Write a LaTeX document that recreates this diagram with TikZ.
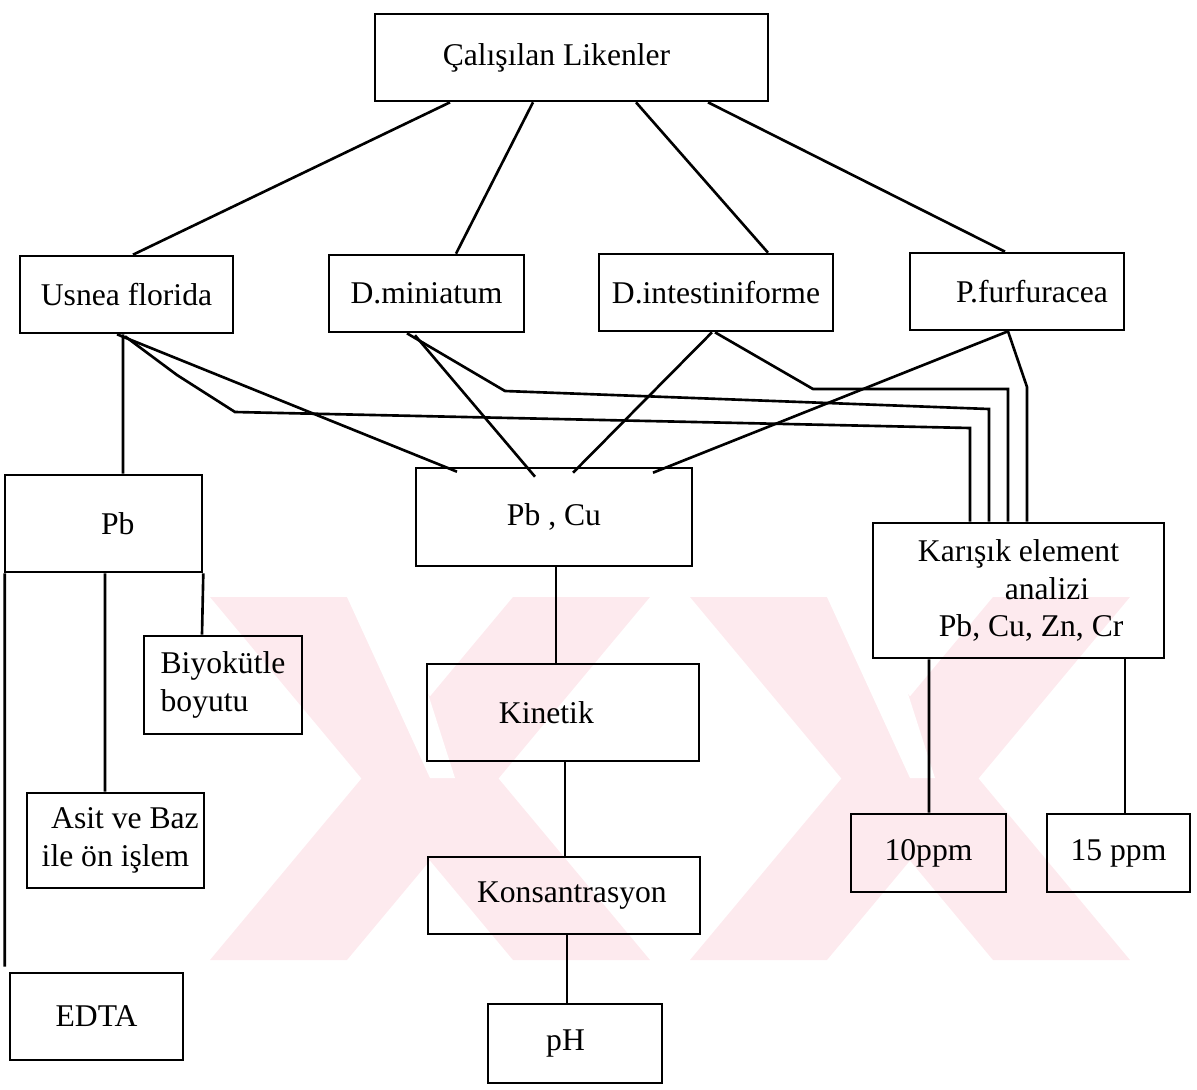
\documentclass[tikz,border=0pt]{standalone}
\usepackage{fontspec}
\setmainfont{Liberation Serif}
\usetikzlibrary{calc}
\definecolor{wmpink}{RGB}{253,234,238}
\tikzset{
  box/.style={draw, line width=1.5pt, inner sep=0pt, align=center,
    font=\fontsize{18}{21.5}\selectfont},
  link/.style={line width=1.5pt},
}
\begin{document}
\begin{tikzpicture}[x=0.02cm, y=-0.02cm]
\useasboundingbox (0,0) rectangle (1197,1089);

% Pale watermark behind everything
\fill[wmpink] (210,597) -- (347,597) -- (650,960) -- (513,960) -- cycle;
\fill[wmpink] (513,597) -- (650,597) -- (347,960) -- (210,960) -- cycle;
\fill[wmpink] (690,597) -- (827,597) -- (1130,960) -- (993,960) -- cycle;
\fill[wmpink] (993,597) -- (1130,597) -- (827,960) -- (690,960) -- cycle;
\fill[white] (347,597) -- (397,597) -- (455,778) -- (430,778) -- cycle;
\fill[white] (827,597) -- (877,597) -- (935,778) -- (910,778) -- cycle;

% Lichens
\node[box, minimum width=7.86cm, minimum height=1.74cm] (top) at (571.5,57.5) {Çalışılan Likenler\hspace*{0.95em}};
\node[box, minimum width=4.26cm, minimum height=1.54cm] (usnea) at (126.5,294.5) {Usnea florida};
\node[box, minimum width=3.9cm, minimum height=1.54cm] (dmin) at (426.5,293.5) {D.miniatum};
\node[box, minimum width=4.68cm, minimum height=1.54cm] (dint) at (716,292.5) {D.intestiniforme};
\node[box, minimum width=4.28cm, minimum height=1.54cm] (pfur) at (1017,291.5) {\hspace*{0.95em}P.furfuracea};

% Elements
\node[box, minimum width=3.94cm, minimum height=1.94cm] (pb) at (103.5,523.5) {\hspace*{0.9em}Pb};
\node[box, minimum width=5.52cm, minimum height=1.96cm] (pbcu) at (554,517) {Pb , Cu};
\node[box, minimum width=5.82cm, minimum height=2.7cm] (karisik) at (1018.5,590.5)
  {Karışık element\\\hspace*{1.8em}analizi\\\hspace*{0.8em}Pb, Cu, Zn, Cr};

% Pb branch
\node[box, minimum width=3.16cm, minimum height=1.96cm, align=left] (bio) at (223,685) {Biyokütle\\boyutu};
\node[box, minimum width=3.54cm, minimum height=1.9cm] (asit) at (115.5,840.5) {\hspace*{0.6em}Asit ve Baz\\ile ön işlem};
\node[box, minimum width=3.46cm, minimum height=1.74cm] (edta) at (96.5,1016.5) {EDTA};

% Pb, Cu branch
\node[box, minimum width=5.44cm, minimum height=1.94cm] (kin) at (563,712.5) {Kinetik\hspace*{1.05em}};
\node[box, minimum width=5.44cm, minimum height=1.54cm] (kons) at (564,895.5) {\hspace*{0.5em}Konsantrasyon};
\node[box, minimum width=3.48cm, minimum height=1.58cm] (ph) at (575,1043.5) {pH\hspace*{0.6em}};

% Mixed analysis branch
\node[box, minimum width=3.1cm, minimum height=1.56cm] (ppm10) at (928.5,853) {10ppm};
\node[box, minimum width=2.86cm, minimum height=1.56cm] (ppm15) at (1118.5,853) {15 ppm};

% Top to lichens
\draw[link] ($(top.south)+(-121.5,0)$) -- ($(usnea.north)+(6.5,0)$);
\draw[link] ($(top.south)+(-38.5,0)$) -- ($(dmin.north)+(29.5,0)$);
\draw[link] ($(top.south)+(64.5,0)$) -- ($(dint.north)+(52,0)$);
\draw[link] ($(top.south)+(136.5,0)$) -- ($(pfur.north)+(-12,0)$);

% Lichens to elements
\draw[link] ($(usnea.south)+(-3.5,0)$) -- ($(pb.north)+(19.5,0)$);
\draw[link] ($(usnea.south)+(-9.5,0)$) -- ($(pbcu.north)+(-97,5)$);
\draw[link] ($(usnea.south)+(-1.5,2)$) -- (177,375) -- (235,412) -- (970,428) -- ($(karisik.north)+(-48.5,0)$);
\draw[link] ($(dmin.south)+(-19.5,0)$) -- (505,391) -- (989,409) -- ($(karisik.north)+(-29.5,0)$);
\draw[link] ($(dmin.south)+(-11.5,2)$) -- ($(pbcu.north)+(-19,10)$);
\draw[link] ($(dint.south)+(-4,0)$) -- ($(pbcu.north)+(19,6)$);
\draw[link] ($(dint.south)+(-1,0)$) -- (813,389) -- (1008,389) -- ($(karisik.north)+(-10.5,0)$);
\draw[link] ($(pfur.south)+(-9,0)$) -- ($(pbcu.north)+(99,6)$);
\draw[link] ($(pfur.south)+(-9,0)$) -- (1027,387) -- ($(karisik.north)+(8.5,0)$);

% Pb branch
\draw[link] ($(pb.south west)+(1,0)$) -- ($(edta.north west)+(-4,-5)$);
\draw[link] ($(pb.south)+(1.5,0)$) -- ($(asit.north)+(-10.5,0)$);
\draw[link] (pb.south east) -- ($(bio.north)+(-21,0)$);

% Pb, Cu branch
\draw[link] ($(pbcu.south)+(2,0)$) -- ($(kin.north)+(-7,0)$);
\draw[link] ($(kin.south)+(2,0)$) -- ($(kons.north)+(1,0)$);
\draw[link] ($(kons.south)+(3,0)$) -- ($(ph.north)+(-8,0)$);

% Mixed analysis branch
\draw[link] ($(karisik.south)+(-89.5,0)$) -- ($(ppm10.north)+(0.5,0)$);
\draw[link] ($(karisik.south)+(106.5,0)$) -- ($(ppm15.north)+(6.5,0)$);
\end{tikzpicture}
\end{document}
